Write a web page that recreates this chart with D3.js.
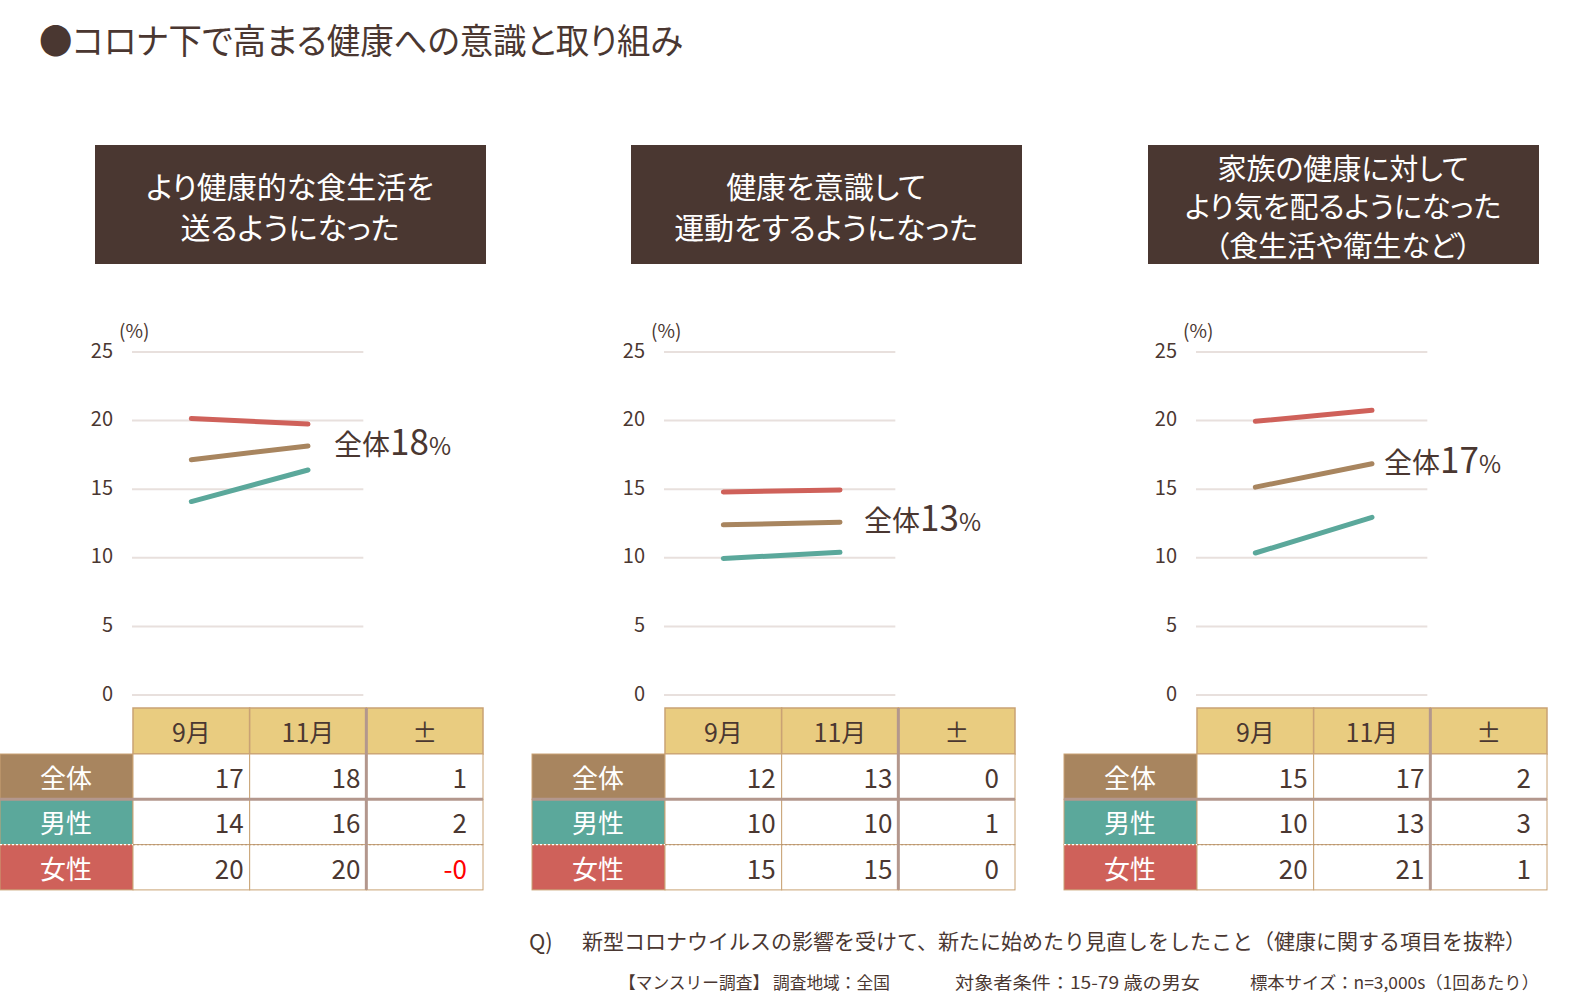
<!DOCTYPE html>
<html>
<head>
<meta charset="utf-8">
<script src="https://cdn.jsdelivr.net/npm/d3@7"></script>
<style>
  body { margin: 0; background: #fff; }
  text { font-family: "Noto Sans CJK JP", "Noto Sans", sans-serif; font-feature-settings: "palt"; }
  text.plain { font-feature-settings: normal; }
</style>
</head>
<body>
<div id="chart"></div>
<script>
var svgWidth = 1586;
var svgHeight = 1006;

// data
var panelTitles = [
  ["より健康的な食生活を", "送るようになった"],
  ["健康を意識して", "運動をするようになった"],
  ["家族の健康に対して", "より気を配るようになった", "（食生活や衛生など）"]
];
var months = ["9月", "11月"];
var tableCols = ["9月", "11月", "±"];
var rowNames = ["全体", "男性", "女性"];
var yTicks = [0, 5, 10, 15, 20, 25];

// line values per panel [9月, 11月]
var totalVals = [[17.15, 18.15], [12.4, 12.6], [15.15, 16.85]];
var maleVals = [[14.1, 16.4], [9.95, 10.4], [10.35, 12.95]];
var femaleVals = [[20.15, 19.75], [14.8, 14.95], [19.95, 20.75]];

// table values per panel [9月, 11月, ±]
var tableTotal = [["17", "18", "1"], ["12", "13", "0"], ["15", "17", "2"]];
var tableMale = [["14", "16", "2"], ["10", "10", "1"], ["10", "13", "3"]];
var tableFemale = [["20", "20", "-0"], ["15", "15", "0"], ["20", "21", "1"]];

var colors = { total: "#a8855f", male: "#5ba89b", female: "#cf615a" };
var dark = "#4a3731";
var tan = "#c9a274";
var panelX = [0, 532, 1064];
var boxX = [95, 631, 1148];
var labelDx = [26, 24, 12];

var svg = d3.select("#chart")
  .append("svg")
  .attr("width", svgWidth)
  .attr("height", svgHeight);

svg.append("rect").attr("width", svgWidth).attr("height", svgHeight).attr("fill", "#fff");

svg.append("text")
  .attr("x", 39)
  .attr("y", 38)
  .attr("dominant-baseline", "central")
  .attr("font-size", 35)
  .attr("textLength", 644)
  .attr("lengthAdjust", "spacingAndGlyphs")
  .attr("fill", dark)
  .text("●コロナ下で高まる健康への意識と取り組み");

var yScale = d3.scaleLinear().domain([0, 25]).range([695, 352]);

panelTitles.forEach(function(title, i) {
  var ox = panelX[i];
  var g = svg.append("g").attr("transform", `translate(${ox}, 0)`);

  var xBand = d3.scaleBand().domain(tableCols).range([133, 483]);
  var xPoint = function(m) { return xBand(m) + xBand.bandwidth() / 2; };

  // title box
  svg.append("rect")
    .attr("x", boxX[i]).attr("y", 145)
    .attr("width", 391).attr("height", 119)
    .attr("fill", "#4a3731");
  var three = title.length > 2;
  var lh = three ? 38.5 : 41;
  title.forEach(function(line, j) {
    svg.append("text")
      .attr("x", boxX[i] + 195)
      .attr("y", 205 + (j - (title.length - 1) / 2) * lh)
      .attr("text-anchor", "middle")
      .attr("dominant-baseline", "central")
      .attr("font-size", three ? 29 : 30)
      .attr("fill", "#fff")
      .text(line);
  });

  // grid + y labels
  var gridRight = xBand("±") - 3;
  g.selectAll(".grid")
    .data(yTicks)
    .enter()
    .append("line")
    .attr("x1", 132)
    .attr("x2", gridRight)
    .attr("y1", d => yScale(d))
    .attr("y2", d => yScale(d))
    .attr("stroke", "#e8e0dd")
    .attr("stroke-width", 2);

  g.selectAll(".tick")
    .data(yTicks)
    .enter()
    .append("text")
    .attr("x", 113)
    .attr("y", d => yScale(d) - 3)
    .attr("text-anchor", "end")
    .attr("dominant-baseline", "central")
    .attr("font-size", 20)
    .attr("fill", dark)
    .text(d => d);

  g.append("text")
    .attr("x", 119)
    .attr("y", 329)
    .attr("dominant-baseline", "central")
    .attr("font-size", 19)
    .attr("fill", dark)
    .text("(%)");

  // lines
  var line = d3.line()
    .x((d, k) => xPoint(months[k]))
    .y(d => yScale(d));

  [[femaleVals[i], colors.female], [totalVals[i], colors.total], [maleVals[i], colors.male]]
    .forEach(function(s) {
      g.append("path")
        .attr("d", line(s[0]))
        .attr("fill", "none")
        .attr("stroke", s[1])
        .attr("stroke-width", 5)
        .attr("stroke-linecap", "round");
    });

  // label 全体xx%
  var endX = xPoint("11月");
  var endY = yScale(totalVals[i][1]);
  var lbl = g.append("text")
    .attr("x", endX + labelDx[i])
    .attr("y", endY + 9)
    .attr("fill", dark);
  lbl.append("tspan").attr("font-size", 28).text("全体");
  lbl.append("tspan").attr("font-size", 35).text(tableTotal[i][1]);
  lbl.append("tspan").attr("font-size", 24).text("%");

  // table
  var headTop = 708, headH = 46, rowH = 45.3;
  var rowY = d3.scaleBand().domain(rowNames).range([headTop + headH, headTop + headH + rowH * 3]);

  g.selectAll(".hcell")
    .data(tableCols)
    .enter()
    .append("rect")
    .attr("x", d => xBand(d))
    .attr("y", headTop)
    .attr("width", xBand.bandwidth())
    .attr("height", headH)
    .attr("fill", "#e9cc80")
    .attr("stroke", tan)
    .attr("stroke-width", 1.5);

  g.selectAll(".htext")
    .data(tableCols)
    .enter()
    .append("text")
    .attr("x", d => xPoint(d))
    .attr("y", headTop + headH / 2)
    .attr("text-anchor", "middle")
    .attr("dominant-baseline", "central")
    .attr("font-size", 25)
    .attr("fill", dark)
    .text(d => d);

  var rows = [
    { name: "全体", color: colors.total, vals: tableTotal[i] },
    { name: "男性", color: colors.male, vals: tableMale[i] },
    { name: "女性", color: colors.female, vals: tableFemale[i] }
  ];

  rows.forEach(function(r) {
    var y0 = rowY(r.name);
    g.append("rect")
      .attr("x", 0).attr("y", y0)
      .attr("width", 133).attr("height", rowH)
      .attr("fill", r.color)
      .attr("stroke", tan)
      .attr("stroke-width", 1);
    g.append("text")
      .attr("x", 66)
      .attr("y", y0 + rowH / 2)
      .attr("text-anchor", "middle")
      .attr("dominant-baseline", "central")
      .attr("font-size", 26)
      .attr("fill", "#fff")
      .text(r.name);
    tableCols.forEach(function(c, k) {
      g.append("rect")
        .attr("x", xBand(c)).attr("y", y0)
        .attr("width", xBand.bandwidth()).attr("height", rowH)
        .attr("fill", "#fff")
        .attr("stroke", tan)
        .attr("stroke-width", 1);
      var pad = c === "±" ? 16 : 6;
      g.append("text")
        .attr("x", xBand(c) + xBand.bandwidth() - pad)
        .attr("y", y0 + rowH / 2)
        .attr("text-anchor", "end")
        .attr("dominant-baseline", "central")
        .attr("font-size", 26)
        .attr("fill", r.vals[k].charAt(0) === "-" ? "#ff0000" : dark)
        .text(r.vals[k]);
    });
  });

  // separators
  var yMid1 = rowY("男性");
  var yMid2 = rowY("女性");
  g.append("line")
    .attr("x1", 0).attr("x2", 483)
    .attr("y1", yMid1).attr("y2", yMid1)
    .attr("stroke", "#b3978d").attr("stroke-width", 3);
  g.append("line")
    .attr("x1", 133).attr("x2", 483)
    .attr("y1", yMid2).attr("y2", yMid2)
    .attr("stroke", "#b89673").attr("stroke-width", 1.2)
    .attr("stroke-dasharray", "2,2");
  g.append("line")
    .attr("x1", 0).attr("x2", 133)
    .attr("y1", yMid2).attr("y2", yMid2)
    .attr("stroke", "#fff").attr("stroke-width", 1.2)
    .attr("stroke-dasharray", "2,2");
  g.append("line")
    .attr("x1", xBand("±")).attr("x2", xBand("±"))
    .attr("y1", headTop).attr("y2", headTop + headH + rowH * 3)
    .attr("stroke", "#b3978d").attr("stroke-width", 3);
});

// footer
svg.append("text")
  .attr("class", "plain")
  .attr("x", 529)
  .attr("y", 940)
  .attr("dominant-baseline", "central")
  .attr("font-size", 22)
  .attr("fill", dark)
  .text("Q)");

svg.append("text")
  .attr("class", "plain")
  .attr("x", 582)
  .attr("y", 940)
  .attr("dominant-baseline", "central")
  .attr("font-size", 21)
  .attr("textLength", 944)
  .attr("lengthAdjust", "spacingAndGlyphs")
  .attr("fill", dark)
  .text("新型コロナウイルスの影響を受けて、新たに始めたり見直しをしたこと（健康に関する項目を抜粋）");

var notes = [
  ["【マンスリー調査】 調査地域：全国", 619, 271],
  ["対象者条件：15-79 歳の男女", 955, 245],
  ["標本サイズ：n=3,000s（1回あたり）", 1250, 289]
];
svg.selectAll(".note")
  .data(notes)
  .enter()
  .append("text")
  .attr("class", "plain")
  .attr("x", d => d[1])
  .attr("y", 981)
  .attr("dominant-baseline", "central")
  .attr("font-size", 17)
  .attr("textLength", d => d[2])
  .attr("lengthAdjust", "spacingAndGlyphs")
  .attr("fill", dark)
  .text(d => d[0]);
</script>
</body>
</html>
